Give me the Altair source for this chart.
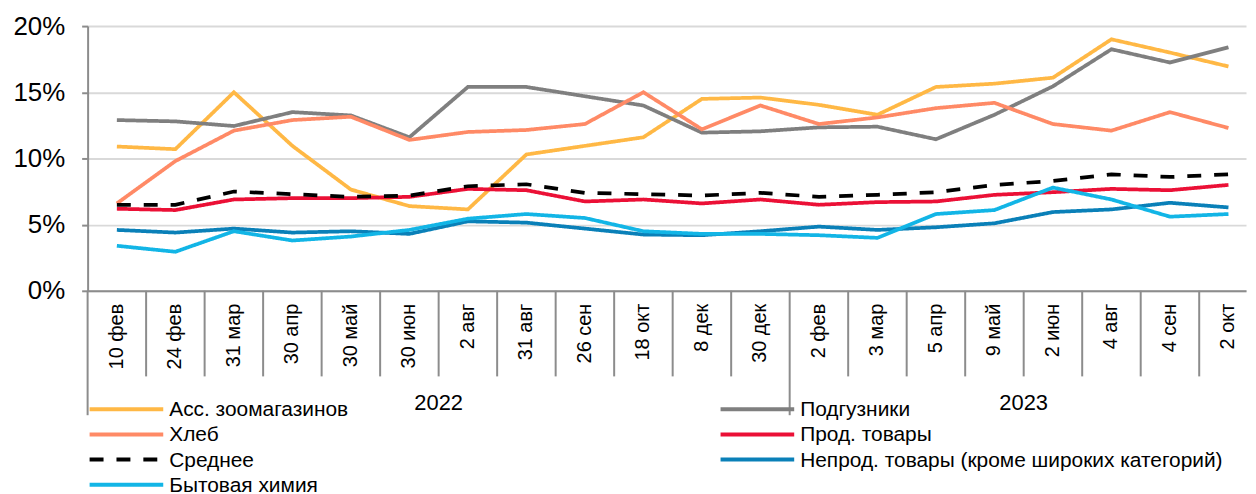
import altair as alt
import pandas as pd

FONT = "Liberation Sans, Arial, sans-serif"

labels = ["10 фев", "24 фев", "31 мар", "30 апр", "30 май", "30 июн", "2 авг", "31 авг",
          "26 сен", "18 окт", "8 дек", "30 дек", "2 фев", "3 мар", "5 апр", "9 май",
          "2 июн", "4 авг", "4 сен", "2 окт"]
label_years = ["2022"] * 12 + ["2023"] * 8

zoo = [10.9, 10.7, 15.0, 10.95, 7.65, 6.4, 6.15, 10.3, 10.95, 11.6, 14.5, 14.6,
       14.05, 13.3, 15.4, 15.65, 16.1, 19.0, 18.0, 16.95]
diapers = [12.9, 12.8, 12.45, 13.5, 13.25, 11.6, 15.4, 15.4, 14.7, 14.0, 11.95, 12.05,
           12.35, 12.4, 11.45, 13.3, 15.45, 18.25, 17.25, 18.4]
bread = [6.6, 9.8, 12.1, 12.9, 13.15, 11.4, 12.0, 12.15, 12.6, 15.0, 12.2, 14.0,
         12.6, 13.1, 13.8, 14.2, 12.6, 12.1, 13.5, 12.3]
food = [6.2, 6.1, 6.9, 7.0, 7.0, 7.1, 7.7, 7.6, 6.75, 6.9, 6.6, 6.9,
        6.5, 6.7, 6.75, 7.25, 7.45, 7.7, 7.6, 8.0]
average = [6.5, 6.5, 7.5, 7.3, 7.1, 7.2, 7.9, 8.05, 7.4, 7.3, 7.2, 7.4,
           7.1, 7.25, 7.45, 8.0, 8.3, 8.8, 8.6, 8.8]
nonfood = [4.6, 4.4, 4.7, 4.4, 4.5, 4.3, 5.25, 5.15, 4.7, 4.25, 4.2, 4.5,
           4.85, 4.6, 4.8, 5.1, 5.95, 6.15, 6.65, 6.3]
chem = [3.4, 2.95, 4.5, 3.8, 4.1, 4.6, 5.45, 5.8, 5.5, 4.5, 4.3, 4.3,
        4.2, 4.0, 5.8, 6.1, 7.8, 6.9, 5.6, 5.8]

series_names = ["Асс. зоомагазинов", "Подгузники", "Хлеб", "Прод. товары", "Среднее",
                "Непрод. товары (кроме широких категорий)", "Бытовая химия"]
series_values = [zoo, diapers, bread, food, average, nonfood, chem]
series_colors = ["#FFB845", "#7F7F7F", "#FF8A66", "#EB1036", "#000000", "#0A80B8", "#12B5E6"]
series_dashes = [[1, 0], [1, 0], [1, 0], [1, 0], [14, 13], [1, 0], [1, 0]]

rows = []
for s, vals in zip(series_names, series_values):
    for i, (lab, v) in enumerate(zip(labels, vals)):
        rows.append({"series": s, "idx": i, "label": lab, "value": v})
df = pd.DataFrame(rows)

n = len(labels)
W, H = 1164, 266
xscale = alt.Scale(domain=[-0.5, n - 0.7], nice=False, zero=False)
yscale = alt.Scale(domain=[0, 20], nice=False)
GRAY = "#8C8C8C"

lines = alt.Chart(df).mark_line(strokeWidth=3.75).encode(
    x=alt.X("idx:Q", scale=xscale,
            axis=alt.Axis(labels=False, ticks=False, grid=False, domainColor=GRAY,
                          domainWidth=2, title=None)),
    y=alt.Y("value:Q", scale=yscale,
            axis=alt.Axis(values=[0, 5, 10, 15, 20], labelExpr="datum.value + '%'",
                          labelFontSize=26, labelFont=FONT, labelColor="#000000",
                          labelPadding=17, tickSize=6, tickWidth=2, tickColor=GRAY,
                          domainColor=GRAY, domainWidth=2, grid=True,
                          gridColor="#D9D9D9", gridWidth=2, title=None)),
    color=alt.Color("series:N", scale=alt.Scale(domain=series_names, range=series_colors),
                    legend=None),
    strokeDash=alt.StrokeDash("series:N", scale=alt.Scale(domain=series_names, range=series_dashes),
                              legend=None),
    order=alt.Order("idx:Q"),
)

cat_df = pd.DataFrame({"idx": list(range(n)), "label": labels, "year": label_years})
sep_df = pd.DataFrame({"b": [i - 0.5 for i in range(1, n) if label_years[i] == label_years[i - 1]]})
ybound_df = pd.DataFrame({"b": [i - 0.5 for i in range(n) if i == 0 or label_years[i] != label_years[i - 1]]})
years = sorted(set(label_years))
year_centers = []
for yv in years:
    idxs = [i for i, y in enumerate(label_years) if y == yv]
    year_centers.append((idxs[0] + idxs[-1]) / 2)
year_df = pd.DataFrame({"year": years, "c": year_centers})

seps = alt.Chart(sep_df).mark_rule(color=GRAY, strokeWidth=2).encode(
    x=alt.X("b:Q", scale=xscale), y=alt.value(H), y2=alt.value(H + 86))
ybounds = alt.Chart(ybound_df).mark_rule(color=GRAY, strokeWidth=2).encode(
    x=alt.X("b:Q", scale=xscale), y=alt.value(H), y2=alt.value(H + 125))
cat_text = alt.Chart(cat_df).mark_text(angle=270, align="right", baseline="middle",
                                       fontSize=20, font=FONT, color="#000000").encode(
    x=alt.X("idx:Q", scale=xscale), y=alt.value(H + 13), text="label:N")
year_text = alt.Chart(year_df).mark_text(align="center", baseline="middle",
                                         fontSize=22, font=FONT, color="#000000").encode(
    x=alt.X("c:Q", scale=xscale), y=alt.value(H + 113), text="year:N")

# Manual legend, two columns filled row by row
LEG_COL_X = [2, 636]
LEG_ROW_Y0, LEG_ROW_STEP = 385, 25.3
SW_LEN, TXT_GAP = 74, 6
legend_layers = []
for k, (name, col, dash) in enumerate(zip(series_names, series_colors, series_dashes)):
    c, r = k % 2, k // 2
    x0 = LEG_COL_X[c]
    yy = LEG_ROW_Y0 + r * LEG_ROW_STEP
    ent = pd.DataFrame({"series": [name]})
    legend_layers.append(
        alt.Chart(ent).mark_rule(color=col, strokeWidth=4, strokeDash=dash).encode(
            x=alt.value(x0), x2=alt.value(x0 + SW_LEN), y=alt.value(yy)))
    legend_layers.append(
        alt.Chart(ent).mark_text(align="left", baseline="middle", fontSize=21, font=FONT,
                                 color="#000000").encode(
            x=alt.value(x0 + SW_LEN + TXT_GAP), y=alt.value(yy + 1), text="series:N"))

chart = alt.layer(seps, ybounds, cat_text, year_text, lines, *legend_layers).properties(
    width=W, height=H,
    autosize=alt.AutoSizeParams(type="none"),
    padding={"left": 80, "top": 17, "right": 2, "bottom": 203},
).configure_view(stroke=None)

chart.save("out.html", embed_options={"renderer": "svg", "actions": False})
